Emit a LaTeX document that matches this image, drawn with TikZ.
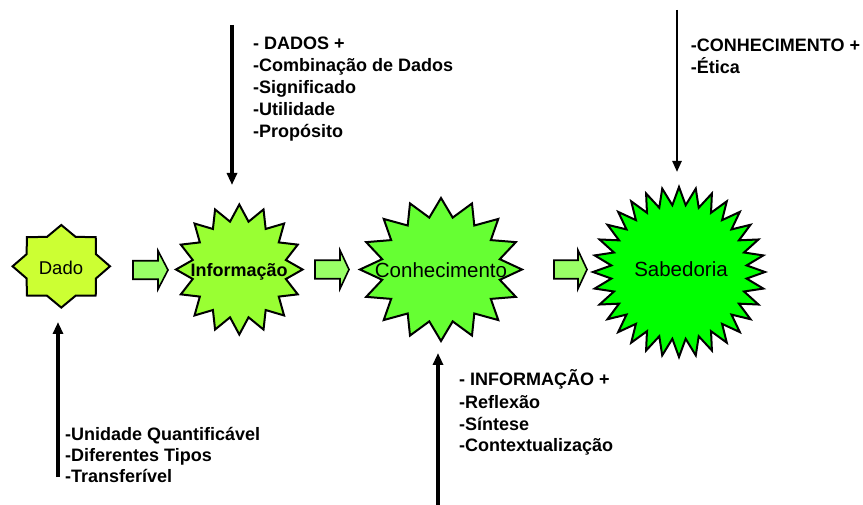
\documentclass[tikz,border=0pt]{standalone}
\usepackage{fontspec}
\setmainfont{Liberation Sans}
\usetikzlibrary{arrows.meta}
\definecolor{dadoc}{HTML}{CCFF33}
\definecolor{infoc}{HTML}{99FF33}
\definecolor{conhc}{HTML}{66FF33}
\definecolor{sabc}{HTML}{00FF00}
\definecolor{arrowc}{HTML}{99FF66}
\newcommand\greenarrow[4]{%
  \draw[blockarrow] (#1,#4-9.25) -- (#2,#4-9.25) -- (#2,#4-19.25) -- (#3,#4)
    -- (#2,#4+19.25) -- (#2,#4+9.25) -- (#1,#4+9.25) -- cycle;}
\begin{document}
\begin{tikzpicture}[x=1pt,y=-1pt,
  starline/.style={draw=black, line width=2pt, line join=miter},
  blockarrow/.style={draw=black, line width=1.6pt, fill=arrowc, line join=miter},
  flowarrow/.style={line width=3.4pt, -{Triangle[width=10pt,length=12pt]}},
  thinflow/.style={line width=2.3pt, -{Triangle[width=9pt,length=11pt]}},
  bodytext/.style={font=\fontsize{18}{22}\selectfont\bfseries, anchor=base west, inner sep=0pt},
  startext/.style={anchor=base, inner sep=0pt}]
\useasboundingbox (0,0) rectangle (863,505);

% stars
\draw[starline, fill=dadoc] plot[samples at={0,...,15}, variable=\k]
  ({61.3+48.7*(1-0.23*mod(\k,2))*sin(\k*22.5)}, {266.3-41.3*(1-0.23*mod(\k,2))*cos(\k*22.5)}) -- cycle;
\draw[starline, fill=infoc] plot[samples at={0,...,31}, variable=\k]
  ({239.3+63.3*(1-0.25*mod(\k,2))*sin(\k*11.25)}, {269.5-65*(1-0.25*mod(\k,2))*cos(\k*11.25)}) -- cycle;
\draw[starline, fill=conhc] plot[samples at={0,...,31}, variable=\k]
  ({441+81*(1-0.26*mod(\k,2))*sin(\k*11.25)}, {269.5-71.5*(1-0.26*mod(\k,2))*cos(\k*11.25)}) -- cycle;
\draw[starline, fill=sabc] plot[samples at={0,...,63}, variable=\k]
  ({679+86*(1-0.21*mod(\k,2))*sin(\k*5.625)}, {272-85*(1-0.21*mod(\k,2))*cos(\k*5.625)}) -- cycle;

% star labels
\node[startext, font=\fontsize{18.5}{22}\selectfont] (dado) at (61,274.5) {Dado};
\node[startext, font=\fontsize{18}{22}\selectfont\bfseries] (info) at (239.2,276.7) {Informação};
\node[startext, font=\fontsize{20.5}{24}\selectfont] (conh) at (441,277.3) {Conhecimento};
\node[startext, font=\fontsize{20.5}{24}\selectfont] (sab) at (681,277) {Sabedoria};

% block arrows
\greenarrow{133}{158}{168}{270}
\greenarrow{315}{340}{349}{269.5}
\greenarrow{554}{578}{587}{269.5}

% vertical arrows
\coordinate (infoSrc) at (232,25);
\coordinate (infoTip) at (232,185);
\draw[flowarrow] (infoSrc) -- (infoTip);
\coordinate (dadoSrc) at (58,477);
\coordinate (dadoTip) at (58,322);
\draw[flowarrow] (dadoSrc) -- (dadoTip);
\coordinate (conhSrc) at (438,506);
\coordinate (conhTip) at (438,353);
\draw[flowarrow] (conhSrc) -- (conhTip);
\coordinate (sabSrc) at (677,10);
\coordinate (sabTip) at (677,172);
\draw[thinflow] (sabSrc) -- (sabTip);

% text blocks
\node[bodytext] (t1a) at (253,49.5) {- DADOS +};
\node[bodytext] (t1b) at (253,71.5) {-Combinação de Dados};
\node[bodytext] (t1c) at (253,93.5) {-Significado};
\node[bodytext] (t1d) at (253,115.5) {-Utilidade};
\node[bodytext] (t1e) at (253,137.5) {-Propósito};

\node[bodytext] (t2a) at (690.7,51.7) {-CONHECIMENTO +};
\node[bodytext] (t2b) at (690.7,73.3) {-Ética};

\node[bodytext] (t3a) at (65,440) {-Unidade Quantificável};
\node[bodytext] (t3b) at (65,461.2) {-Diferentes Tipos};
\node[bodytext] (t3c) at (65,482) {-Transferível};

\node[bodytext] (t4a) at (459,385.5) {- INFORMAÇÃO +};
\node[bodytext] (t4b) at (459,408) {-Reflexão};
\node[bodytext] (t4c) at (459,430) {-Síntese};
\node[bodytext] (t4d) at (459,451.5) {-Contextualização};
\end{tikzpicture}
\end{document}
